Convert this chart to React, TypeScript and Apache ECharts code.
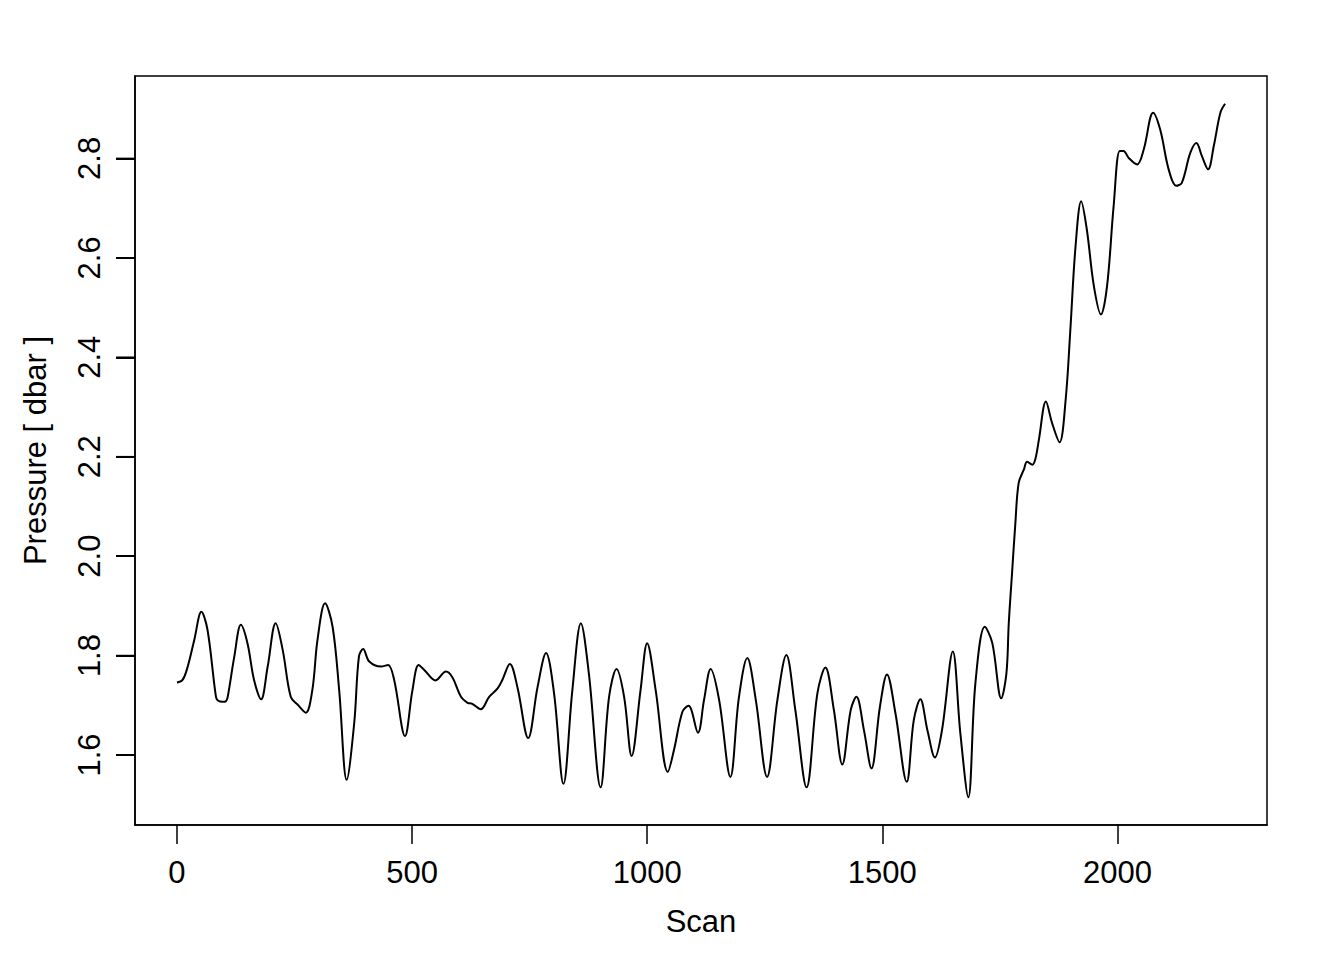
import React, { useEffect, useRef } from "react";
import * as echarts from "echarts";

const scans: number[] = [
  0, 12, 23, 37, 52, 65, 83, 88, 97, 104, 108, 122, 136, 150, 164, 179, 193, 210, 225, 242,
  257, 274, 288, 299, 315, 331, 345, 361, 377, 387, 396, 409, 434, 449, 462, 485, 501, 514, 526, 550,
  572, 586, 604, 618, 628, 646, 664, 682, 692, 708, 724, 747, 767, 785, 802, 822, 841, 859, 876, 901,
  919, 935, 951, 967, 986, 1000, 1018, 1044, 1057, 1075, 1088, 1108, 1121, 1135, 1153, 1177, 1195, 1213, 1231, 1255,
  1277, 1296, 1315, 1339, 1362, 1379, 1397, 1415, 1433, 1445, 1461, 1477, 1495, 1510, 1528, 1552, 1567, 1581, 1596, 1612,
  1627, 1650, 1666, 1683, 1698, 1718, 1734, 1753, 1764, 1769, 1776, 1783, 1790, 1801, 1808, 1819, 1826, 1833, 1848, 1861,
  1877, 1890, 1900, 1911, 1923, 1935, 1950, 1965, 1978, 1992, 2005, 2013, 2024, 2042, 2056, 2076, 2091, 2109, 2125, 2137,
  2155, 2168, 2180, 2193, 2205, 2219, 2229
];

const pressures: number[] = [
  1.746, 1.751, 1.778, 1.832, 1.888, 1.852, 1.717, 1.709, 1.707, 1.708, 1.717, 1.798, 1.862, 1.825, 1.751, 1.712, 1.778, 1.865, 1.811, 1.717,
  1.701, 1.685, 1.731, 1.832, 1.905, 1.858, 1.731, 1.550, 1.664, 1.798, 1.813, 1.788, 1.778, 1.781, 1.751, 1.638, 1.731, 1.781, 1.771, 1.750,
  1.768, 1.756, 1.717, 1.705, 1.703, 1.692, 1.717, 1.734, 1.751, 1.783, 1.737, 1.634, 1.737, 1.805, 1.724, 1.542, 1.731, 1.865, 1.764, 1.535,
  1.717, 1.773, 1.717, 1.598, 1.731, 1.825, 1.731, 1.566, 1.610, 1.687, 1.699, 1.645, 1.711, 1.773, 1.711, 1.556, 1.715, 1.795, 1.711, 1.556,
  1.711, 1.801, 1.691, 1.535, 1.724, 1.776, 1.691, 1.581, 1.691, 1.717, 1.650, 1.573, 1.697, 1.762, 1.684, 1.546, 1.670, 1.712, 1.650, 1.595,
  1.650, 1.808, 1.644, 1.515, 1.744, 1.858, 1.825, 1.714, 1.764, 1.865, 1.966, 2.066, 2.147, 2.174, 2.190, 2.184, 2.197, 2.234, 2.311, 2.268,
  2.229, 2.315, 2.456, 2.623, 2.714, 2.657, 2.543, 2.486, 2.543, 2.704, 2.815, 2.815, 2.801, 2.788, 2.818, 2.892, 2.858, 2.778, 2.745, 2.751,
  2.811, 2.831, 2.804, 2.778, 2.825, 2.892, 2.910
];

const xTicks: number[] = [0, 500, 1000, 1500, 2000];
const yTicks: number[] = [1.6, 1.8, 2.0, 2.2, 2.4, 2.6, 2.8];

const xTitle = "Scan";
const yTitle = "Pressure [ dbar ]";

export default function App() {
  const ref = useRef<HTMLDivElement>(null);

  useEffect(() => {
    document.body.style.margin = "0";
    if (!ref.current) return;
    const chart = echarts.init(ref.current, null, { renderer: "svg" });

    const xMin = 0, xMax = 2229;
    const yMin = Math.min(...pressures), yMax = Math.max(...pressures);
    const xPad = (xMax - xMin) * 0.04;
    const yPad = (yMax - yMin) * 0.04;

    const font = "Liberation Sans, Arial, Helvetica, sans-serif";
    const tickLen = 19;

    chart.setOption({
      animation: false,
      grid: {
        left: 135,
        right: 77,
        top: 76,
        bottom: 135,
        show: true,
        borderColor: "#000",
        borderWidth: 1.5,
      },
      xAxis: {
        type: "value",
        min: xMin - xPad,
        max: xMax + xPad,
        name: xTitle,
        nameLocation: "middle",
        nameGap: 81,
        nameTextStyle: { fontFamily: font, fontSize: 31, color: "#000" },
        axisLine: { show: true, onZero: false, lineStyle: { color: "#000", width: 1.5 } },
        axisTick: {
          show: true,
          length: tickLen,
          customValues: xTicks,
          lineStyle: { color: "#000", width: 1.5 },
        },
        axisLabel: {
          customValues: xTicks,
          margin: 32,
          fontFamily: font,
          fontSize: 31,
          color: "#000",
          formatter: (v: number) => String(v),
        },
        splitLine: { show: false },
      },
      yAxis: {
        type: "value",
        position: "left",
        min: yMin - yPad,
        max: yMax + yPad,
        name: yTitle,
        nameLocation: "middle",
        nameGap: 84,
        nameRotate: 90,
        nameMoveOverlap: false,
        nameTextStyle: { fontFamily: font, fontSize: 31, color: "#000" },
        axisLine: { show: true, onZero: false, lineStyle: { color: "#000", width: 1.5 } },
        axisTick: {
          show: true,
          length: tickLen,
          customValues: yTicks,
          lineStyle: { color: "#000", width: 2 },
        },
        axisLabel: {
          customValues: yTicks,
          rotate: 90,
          margin: 30,
          fontFamily: font,
          fontSize: 31,
          color: "#000",
          formatter: (v: number) => v.toFixed(1),
        },
        splitLine: { show: false },
      },
      series: [
        {
          type: "line",
          data: scans.map((s, i) => [s, pressures[i]]),
          showSymbol: false,
          smooth: 0.35,
          lineStyle: { color: "#000", width: 2 },
          silent: true,
        },
      ],
    });

    // y-axis tick marks as thin filled rects, placed through the chart's own y scale
    try {
      const leftPt = chart.convertToPixel({ xAxisIndex: 0, yAxisIndex: 0 }, [xMin - xPad, yTicks[0]]);
      const leftX = leftPt && isFinite(leftPt[0]) ? leftPt[0] : 135;
      const tickGraphics = yTicks.map((v) => {
        const pt = chart.convertToPixel({ xAxisIndex: 0, yAxisIndex: 0 }, [xMin - xPad, v]);
        return {
          type: "rect",
          z: 1000,
          silent: true,
          shape: { x: leftX - tickLen, y: pt[1] - 0.8, width: tickLen, height: 1.6 },
          style: { fill: "#000" },
        };
      });
      chart.setOption({ graphic: tickGraphics });
    } catch (e) {
      // ignore
    }

    return () => chart.dispose();
  }, []);

  return <div ref={ref} style={{ width: 1344, height: 960 }} />;
}
